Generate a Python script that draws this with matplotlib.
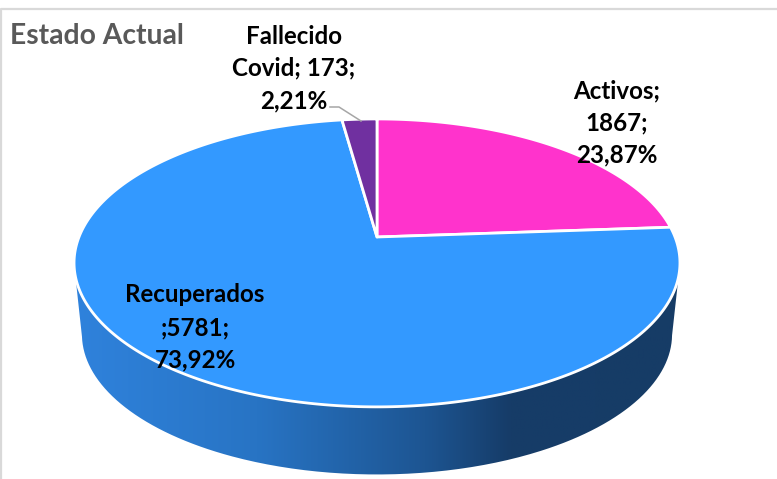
import matplotlib as mpl

mpl.use('Agg')
import matplotlib.pyplot as plt
from matplotlib.colors import LinearSegmentedColormap
from matplotlib.patches import PathPatch
from matplotlib.path import Path
import numpy as np

# data
names = ['Activos', 'Recuperados', 'Fallecido Covid']
values = [1867, 5781, 173]
colors = ['#ff33cc', '#3399ff', '#7030a0']
title = 'Estado Actual'

WIDTH, HEIGHT = 777, 479
FONT = 'Lato'

# perspective of the pie, all in pixels
CX, CY = 377, 237
K = 0.18
SX, SY = 298, 139.3
DEPTH = 72
BOTTOM_SCALE = 0.974


def project(theta, r=1.0, scale=1.0, dy=0.0):
    """Clockwise angle from the top of the disc to picture coordinates"""
    x = r * np.sin(theta)
    y = r * np.cos(theta)
    w = 1 + K * y
    return CX + scale * SX * x / w, CY + dy - scale * SY * y / w


def fmt_pct(value):
    return f"{100 * value / sum(values):.2f}%".replace('.', ',')


fig = plt.figure(figsize=(WIDTH / 100, HEIGHT / 100), dpi=100)
ax = fig.add_axes([0, 0, 1, 1])
ax.set_xlim(0, WIDTH)
ax.set_ylim(HEIGHT, 0)
ax.axis('off')

# chart frame
ax.plot([0.5, 0.5, WIDTH], [HEIGHT, 8.5, 8.5], color='#d9d9d9', lw=1.6, zorder=1)

# side of the pie, a gradient clipped to the outline
t = np.linspace(np.pi * 0.56, np.pi * 1.44, 300)
top_x, top_y = project(t)
bot_x, bot_y = project(t[::-1], scale=BOTTOM_SCALE, dy=DEPTH)
outline = np.column_stack([np.r_[top_x, bot_x], np.r_[top_y, bot_y]])
side = PathPatch(Path(np.vstack([outline, outline[:1]])), fc='none', ec='none',
                 transform=ax.transData)
ax.add_patch(side)
cmap = LinearSegmentedColormap.from_list(
    'side', [(0, '#2f82dc'), (0.3, '#2874c4'), (0.58, '#1d5592'), (0.72, '#163c68'), (1, '#163c66')])
img = ax.imshow(np.linspace(0, 1, 256)[None, :], cmap=cmap, aspect='auto',
                extent=(75, 680, 480, 200), zorder=2)
img.set_clip_path(side)
ax.set_xlim(0, WIDTH)
ax.set_ylim(HEIGHT, 0)

# slices on top
shares = np.array(values) / sum(values)
edges = np.r_[0, np.cumsum(shares)] * 2 * np.pi
for start, stop, color in zip(edges[:-1], edges[1:], colors):
    t = np.linspace(start, stop, 300)
    x, y = project(t)
    ax.fill(np.r_[CX, x], np.r_[CY, y], fc=color, ec='white', lw=2,
            joinstyle='round', zorder=3)

# labels, one row at a time
rows = [
    (617, [91, 123, 155], [names[0] + ';', f"{values[0]};", fmt_pct(values[0])]),
    (195, [295, 328, 360], [names[1], f";{values[1]};", fmt_pct(values[1])]),
    (294, [36, 68, 101], ['Fallecido', f"Covid; {values[2]};", fmt_pct(values[2])]),
]
for x, ys, lines in rows:
    for y, line in zip(ys, lines):
        ax.text(x, y, line, ha='center', va='center', family=FONT,
                fontweight='bold', fontsize=17.4, color='black', zorder=5)

# leader line of the small slice
ax.plot([330, 339, 361], [107, 107, 121], color='#a6a6a6', lw=1.1, zorder=4)

ax.text(10, 36, title, ha='left', va='center', family=FONT, fontweight='bold',
        fontsize=20.3, color='#595959', zorder=5)

fig.savefig('out.png', dpi=100)
